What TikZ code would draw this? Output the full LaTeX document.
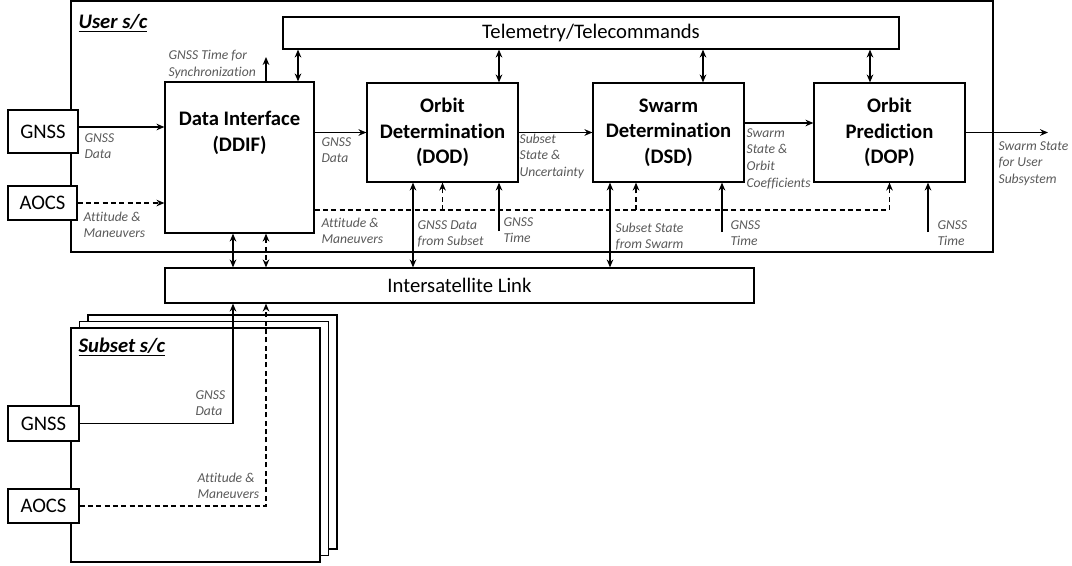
\documentclass[tikz,border=0pt]{standalone}
\usepackage{fontspec}
\setmainfont{Carlito}[Ligatures=NoCommon]
\usepackage{xcolor}
\usepackage{tikz}
\usetikzlibrary{positioning,arrows.meta}

\definecolor{lblgray}{HTML}{595959}

\begin{document}
\begin{tikzpicture}[x=0.75pt, y=-0.75pt, line width=0.9pt,
  >={Stealth[length=6pt,width=5pt,inset=2pt]},
  box/.style={draw, fill=white, inner sep=0pt, font={\fontsize{15.5}{18}\selectfont}},
  block/.style={box, minimum width=113.25pt, minimum height=74.25pt, align=center, font={\fontsize{15.5}{19}\selectfont\bfseries}},
  sensor/.style={box, minimum width=53.25pt, minimum height=26.25pt},
  craft/.style={draw, fill=white, minimum width=186.75pt, minimum height=175.5pt},
  sctitle/.style={anchor=base west, inner sep=0pt, font={\fontsize{15.5}{19}\selectfont\bfseries\itshape}},
  lbl/.style={anchor=north west, inner sep=0pt, align=left, text=lblgray, font={\fontsize{10.2}{12.4}\selectfont\itshape}},
  dashline/.style={dash pattern=on 3.75pt off 2.5pt}]

\useasboundingbox (0,0) rectangle (1072,565);

% user spacecraft
\node[draw, minimum width=691.5pt, minimum height=188.25pt] (user) at (532,126.5) {};
\node[sctitle] (usertitle) at (78,28) {\underline{User s/c}};

\node[box, minimum width=462pt, minimum height=24pt] (tm) at (591,33) {Telemetry/Telecommands};

\node[sensor, minimum width=52.5pt, minimum height=32.25pt] (gnss1) at (43,131.5) {GNSS};
\node[sensor, minimum width=51.75pt, minimum height=25.5pt] (aocs1) at (42.5,203) {AOCS};

\node[block, minimum width=111.75pt, minimum height=113.25pt] (ddif) at (239.5,157.5) {};
\node[align=center, inner sep=0pt, font={\fontsize{15.5}{19}\selectfont\bfseries}, below=22pt of ddif.north] (ddiftext) {Data Interface\\(DDIF)};

\node[block] (dod) at (442.5,132.5) {Orbit\\Determination\\(DOD)};
\node[block] (dsd) at (668.5,132.5) {Swarm\\Determination\\(DSD)};
\node[block] (dop) at (889.5,132.5) {Orbit\\Prediction\\(DOP)};

\node[box, minimum width=441.75pt, minimum height=26.25pt] (isl) at (459.5,285.5) {Intersatellite Link};

% subset spacecraft
\node[craft] (sub3) at (212.5,432) {};
\node[craft] (sub2) at (204,438.5) {};
\node[craft] (sub1) at (195.5,445) {};
\node[sctitle] (subtitle) at (78,352) {\underline{Subset s/c}};

\node[sensor] (gnss2) at (43.5,423.5) {GNSS};
\node[sensor, minimum height=25.5pt] (aocs2) at (43.5,506) {AOCS};

\coordinate (ya) at (0,127);
\coordinate (yb) at (0,123);
\coordinate (yc) at (0,210);
\coordinate (xa) at (233,0);
\coordinate (xb) at (266,0);
\coordinate (xc) at (298,0);
\coordinate (xd) at (413,0);
\coordinate (xe) at (499,0);
\coordinate (xf) at (610,0);
\coordinate (xg) at (636,0);
\coordinate (xh) at (703,0);
\coordinate (xj) at (870,0);
\coordinate (sync) at (266,57);
\coordinate (out) at (1048,132.5);
\coordinate (tdod) at (499,231);
\coordinate (tdsd) at (722,232);
\coordinate (tdop) at (928,232);

\draw[->] (gnss1.east |- ya) -- (ddif.west |- ya);
\draw[->, dashline] (aocs1.east) -- (aocs1.east -| ddif.west);
\draw[->] (ddif.north -| xb) -- (sync);
\draw[<->] (ddif.north -| xc) -- (tm.south -| xc);

\draw[->] (dod.west -| ddif.east) -- (dod.west);
\draw[->] (dod.east) -- (dsd.west);
\draw[->] (dsd.east |- yb) -- (dop.west |- yb);
\draw[->] (dop.east) -- (out);

\draw[<->] (dod.north -| xe) -- (tm.south -| xe);
\draw[<->] (dsd.north -| xh) -- (tm.south -| xh);
\draw[<->] (dop.north -| xj) -- (tm.south -| xj);

\draw[->, dashline] (ddif.east |- yc) -| (dop.south);
\draw[->, dashline] (dod.south |- yc) -- (dod.south);
\draw[->, dashline] (xg |- yc) -- (dsd.south -| xg);

\draw[<->] (dod.south -| xd) -- (isl.north -| xd);
\draw[<->] (dsd.south -| xf) -- (isl.north -| xf);
\draw[->] (tdod) -- (tdod |- dod.south);
\draw[->] (tdsd) -- (tdsd |- dsd.south);
\draw[->] (tdop) -- (tdop |- dop.south);

\draw[<->] (ddif.south -| xa) -- (isl.north -| xa);
\draw[<->, dashline] (ddif.south -| xb) -- (isl.north -| xb);

\draw[->] (gnss2.east) -| (isl.south -| xa);
\draw[->, dashline] (aocs2.east) -| (isl.south -| xb);

% labels
\node[lbl] (l1) at (84,133) {GNSS\\Data};
\node[lbl] (l2) at (83,211) {Attitude \&\\Maneuvers};
\node[lbl] (l3) at (168,50) {GNSS Time for\\Synchronization};
\node[lbl] (l4) at (321,137) {GNSS\\Data};
\node[lbl] (l5) at (321,217) {Attitude \&\\Maneuvers};
\node[lbl] (l6) at (417,220) {GNSS Data\\from Subset};
\node[lbl] (l7) at (503,217) {GNSS\\Time};
\node[lbl] (l8) at (519,133) {Subset\\State \&\\Uncertainty};
\node[lbl] (l9) at (615,222) {Subset State\\from Swarm};
\node[lbl] (l10) at (730,220) {GNSS\\Time};
\node[lbl] (l11) at (746,128) {Swarm\\State \&\\Orbit\\Coefficients};
\node[lbl] (l12) at (998,141) {Swarm State\\for User\\Subsystem};
\node[lbl] (l13) at (937,220) {GNSS\\Time};
\node[lbl] (l14) at (195,390) {GNSS\\Data};
\node[lbl] (l15) at (197,472) {Attitude \&\\Maneuvers};

\end{tikzpicture}
\end{document}
